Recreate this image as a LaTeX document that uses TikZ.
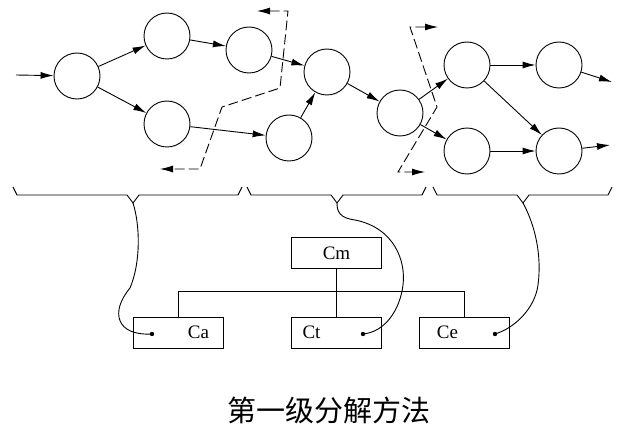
\documentclass[tikz,border=0pt]{standalone}
\usepackage{fontspec}
\setmainfont{Liberation Serif}
\newfontfamily\cjk{Noto Sans CJK SC}
\usetikzlibrary{arrows.meta,positioning}
\tikzset{
  basic/.style = {draw, line width=0.9pt},
  stage/.style = {basic, circle, minimum size=46pt, inner sep=0pt},
  unit/.style  = {basic, rectangle, minimum width=90pt, minimum height=31pt,
                  inner sep=0pt},
  cut/.style   = {line width=0.9pt, dash pattern=on 10pt off 4pt},
  lbl/.style   = {font=\fontsize{19}{21}\selectfont, inner sep=0pt}
}

\begin{document}
\begin{tikzpicture}[x=1pt, y=-1pt, line width=0.9pt,
  >={Latex[length=13pt,width=7pt]}]
\useasboundingbox (0,0) rectangle (622,433);

% the chain of stages
\node[stage] (n1) at (77,76) {};
\node[stage] (n2) at (167,36) {};
\node[stage] (n3) at (167,124) {};
\node[stage] (n4) at (249,50) {};
\node[stage] (n5) at (289,138) {};
\node[stage] (n6) at (327,72) {};
\node[stage] (n7) at (400,113) {};
\node[stage] (n8) at (467,65) {};
\node[stage] (n9) at (467,151) {};
\node[stage] (n10) at (559,65) {};
\node[stage] (n11) at (559,151) {};

\coordinate (in) at (16,75);
\coordinate (out1) at (612,82);
\coordinate (out2) at (610,145);

\draw[->] (in) -- (n1);
\foreach \a/\b in {n1/n2, n1/n3, n2/n4, n4/n6, n3/n5, n5/n6, n6/n7,
                   n7/n8, n7/n9, n8/n10, n8/n11, n9/n11}
  \draw[->] (\a) -- (\b);
\draw[->] (n10) -- (out1);
\draw[->] (n11) -- (out2);

% cut lines
\draw[cut, <->] (257,11) -- (288,11) -- (280,88) -- (222,107) -- (200,169) -- (160,169);
\draw[cut, <->] (438,27) -- (410,27) -- (437,107) -- (398,172) -- (425,172);

% braces under the chain
\foreach \a/\t/\b [count=\i] in {13/133/242, 247/337/426, 433/523/612} {
  \draw (\a,187) -- (\a+4,195) -- (\t-6,195) -- (\t,203) -- (\t+6,195)
        -- (\b-4,195) -- (\b,187);
  \coordinate (tip\i) at (\t,203);
}

% the control units
\node[unit] (cm) at (336.5,253) {};
\node[lbl] at (cm.center) {Cm};
\node[unit] (ca) at (178.5,332.5) {};
\node[lbl] at ([xshift=20pt]ca.center) {Ca};
\node[unit] (ct) at (336.5,332.5) {};
\node[lbl] at ([xshift=-25pt]ct.center) {Ct};
\node[unit] (ce) at (464.5,332.5) {};
\node[lbl] at ([xshift=-17pt]ce.center) {Ce};

\coordinate (bus) at (0,291);
\draw (cm.south) -- (ct.north);
\draw (ca.north) -- (ca.north |- bus) -- (ce.north |- bus) -- (ce.north);

\coordinate (ca-dot) at ([xshift=-26.5pt, yshift=-1.5pt]ca.center);
\coordinate (ct-dot) at ([xshift=26.5pt, yshift=-1.5pt]ct.center);
\coordinate (ce-dot) at ([xshift=30.5pt, yshift=-1.5pt]ce.center);
\foreach \d in {ca-dot, ct-dot, ce-dot}
  \fill (\d) circle (2.2pt);

% links from the braces
\draw (tip1) .. controls (140,225) and (141,262) .. (130,288)
      .. controls (110,312) and (116,336) .. (ca-dot);
\draw (tip2) .. controls (337,212) and (340,218) .. (355,220)
      .. controls (395,228) and (406,262) .. (403,285)
      .. controls (400,310) and (385,332) .. (ct-dot);
\draw (tip3) .. controls (535,225) and (542,255) .. (538,285)
      .. controls (535,308) and (515,328) .. (ce-dot);

\node[font=\cjk\fontsize{29}{32}\selectfont, inner sep=0pt] (title) at (328.5,410) {第一级分解方法};

\end{tikzpicture}
\end{document}
